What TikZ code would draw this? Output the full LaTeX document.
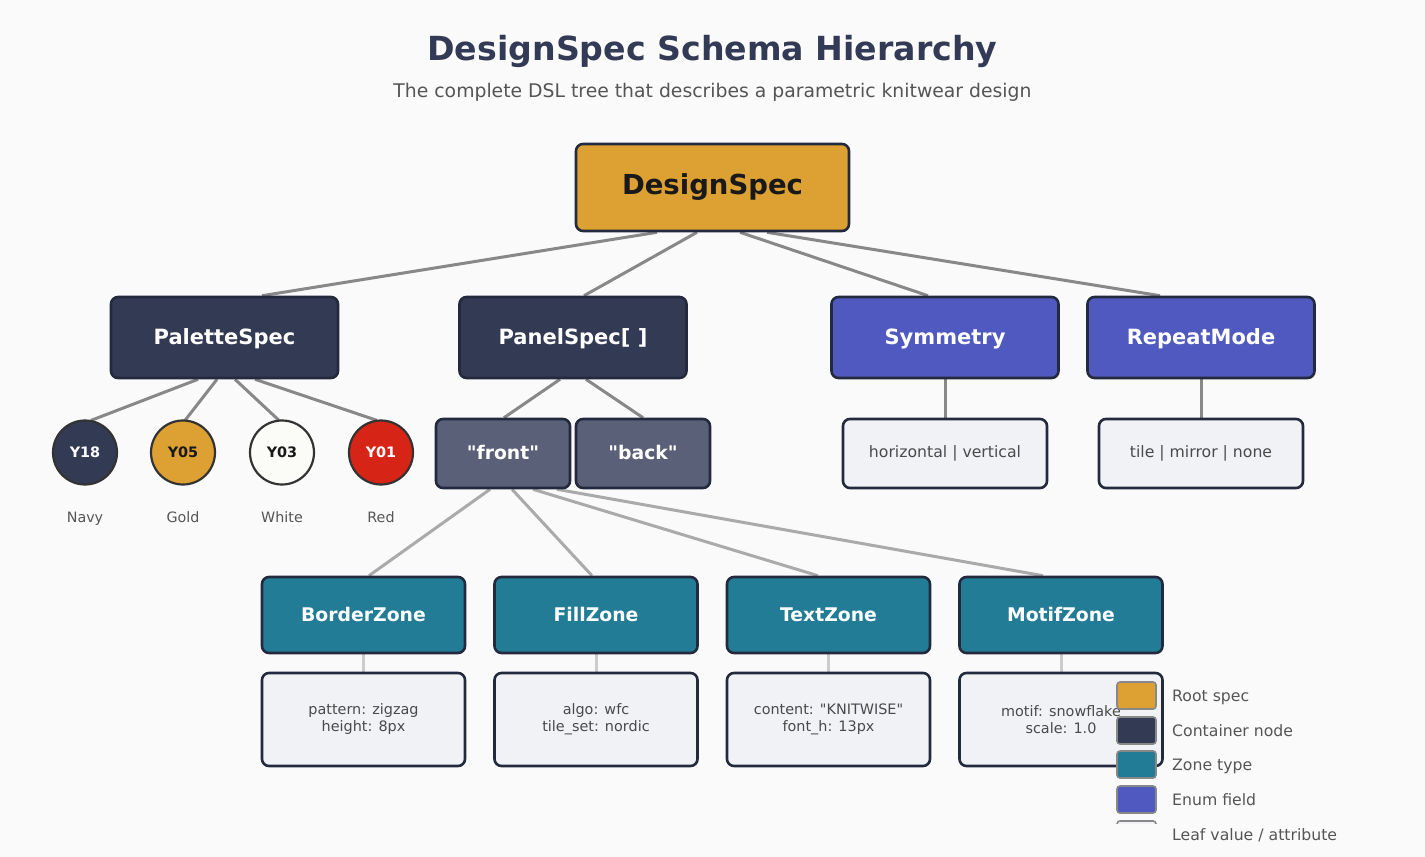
\documentclass[tikz,border=0pt]{standalone}
\usepackage{fontspec}
\setmainfont{DejaVu Sans}[Ligatures=TeXOff]
\usetikzlibrary{calc,backgrounds}
\definecolor{bgc}{HTML}{FAFAFA}
\definecolor{titlec}{HTML}{333A56}
\definecolor{subc}{HTML}{555555}
\definecolor{rootc}{HTML}{DDA033}
\definecolor{contc}{HTML}{333A54}
\definecolor{panc}{HTML}{596078}
\definecolor{enumc}{HTML}{4F59BF}
\definecolor{zonec}{HTML}{237C96}
\definecolor{leafc}{HTML}{F1F2F6}
\definecolor{bordc}{HTML}{232A3D}
\definecolor{leaftxt}{HTML}{4A4A4A}
\definecolor{redc}{HTML}{D62416}
\definecolor{whitec}{HTML}{FBFBF8}
\definecolor{circb}{HTML}{333333}
\definecolor{edgea}{HTML}{888888}
\definecolor{edgeb}{HTML}{AAAAAA}
\definecolor{edgec}{HTML}{CCCCCC}
\tikzset{
  box/.style={rectangle, rounded corners=7pt, draw=bordc, line width=2.6pt, inner sep=0pt, align=center},
  rootbox/.style={box, text height=20pt, text depth=6.4pt, fill=rootc, text=black!90, minimum width=273pt, minimum height=87pt, font=\bfseries\fontsize{27.5}{32}\selectfont},
  contbox/.style={box, text height=15.5pt, text depth=2.5pt, fill=contc, text=white, minimum width=227pt, minimum height=81pt, font=\bfseries\fontsize{21}{25}\selectfont},
  enumbox/.style={contbox, fill=enumc},
  panbox/.style={box, text height=14pt, text depth=3pt, fill=panc, text=white, minimum width=134pt, minimum height=69pt, font=\bfseries\fontsize{18.8}{22}\selectfont},
  valbox/.style={box, text height=11.5pt, text depth=3.1pt, fill=leafc, text=leaftxt, minimum width=204pt, minimum height=69pt, font=\fontsize{15.7}{19}\selectfont},
  zonebox/.style={box, text height=14pt, text depth=2pt, fill=zonec, text=white, minimum width=203pt, minimum height=76pt, font=\bfseries\fontsize{18.8}{22}\selectfont},
  attrbox/.style={box, fill=leafc, text=leaftxt, minimum width=203pt, minimum height=93pt, font=\fontsize{14.4}{17}\selectfont},
  yarn/.style={circle, draw=circb, line width=2.2pt, minimum size=64pt, inner sep=0pt, font=\bfseries\fontsize{14.4}{17}\selectfont},
  yarnlbl/.style={anchor=base, text=subc, font=\fontsize{14.3}{17}\selectfont},
  edgeA/.style={draw=edgea, line width=3pt},
  edgeB/.style={draw=edgeb, line width=3pt},
  edgeC/.style={draw=edgec, line width=3pt},
  legsq/.style={rectangle, rounded corners=3pt, draw=edgea, line width=1.6pt, minimum width=39pt, minimum height=27pt, inner sep=0pt},
  leglbl/.style={anchor=base west, text=subc, font=\fontsize{15.7}{19}\selectfont, inner sep=0pt},
}
\begin{document}
\begin{tikzpicture}[x=1pt, y=-1pt]
\useasboundingbox (0,0) rectangle (1425,857);

\node[anchor=base, text=titlec, font=\bfseries\fontsize{33.2}{40}\selectfont] (title) at (712.5,60) {DesignSpec Schema Hierarchy};
\node[anchor=base, text=subc, font=\fontsize{18.8}{22}\selectfont] (subtitle) at (712.5,97) {The complete DSL tree that describes a parametric knitwear design};

% level 0
\node[rootbox] (root) at (712.5,187.5) {DesignSpec};
% level 1
\node[contbox] (pal) at (224.5,337.5) {PaletteSpec};
\node[contbox] (pan) at (573,337.5) {PanelSpec[ ]};
\node[enumbox] (sym) at (945,337.5) {Symmetry};
\node[enumbox] (rep) at (1201,337.5) {RepeatMode};
% yarns
\node[yarn, fill=contc, text=white] (y18) at (85,452.5) {Y18};
\node[yarn, fill=rootc, text=black!90] (y05) at (183,452.5) {Y05};
\node[yarn, fill=whitec, text=black!90] (y03) at (282,452.5) {Y03};
\node[yarn, fill=redc, text=white] (y01) at (381,452.5) {Y01};
\node[yarnlbl] (l18) at (85,522) {Navy};
\node[yarnlbl] (l05) at (183,522) {Gold};
\node[yarnlbl] (l03) at (282,522) {White};
\node[yarnlbl] (l01) at (381,522) {Red};
% panels
\node[panbox] (front) at (503,453.5) {"front"};
\node[panbox] (back) at (643,453.5) {"back"};
% enum values
\node[valbox] (symv) at (945,453.5) {horizontal | vertical};
\node[valbox] (repv) at (1201,453.5) {tile | mirror | none};
% zones
\node[zonebox] (bz) at (363.5,615) {BorderZone};
\node[zonebox] (fz) at (596,615) {FillZone};
\node[zonebox] (tz) at (828.5,615) {TextZone};
\node[zonebox] (mz) at (1061,615) {MotifZone};
% attributes
\node[attrbox] (ba) at (363.5,719.5) {pattern: zigzag\\height: 8px};
\node[attrbox] (fa) at (596,719.5) {algo: wfc\\tile\_set: nordic};
\node[attrbox] (ta) at (828.5,719.5) {content: "KNITWISE"\\font\_h: 13px};
\node[attrbox] (ma) at (1061,719.5) {motif: snowflake\\scale: 1.0};

\begin{scope}[on background layer]
  \fill[bgc] (0,0) rectangle (1425,857);
  \draw[edgeA] ($(root.south)+(-55.5,0)$) -- ($(pal.north)+(37.5,0)$);
  \draw[edgeA] ($(root.south)+(-15.5,0)$) -- ($(pan.north)+(11,0)$);
  \draw[edgeA] ($(root.south)+(27.5,0)$) -- ($(sym.north)+(-17,0)$);
  \draw[edgeA] ($(root.south)+(54.5,0)$) -- ($(rep.north)+(-41,0)$);
  \draw[edgeA] ($(pal.south)+(-26.5,0)$) -- ($(y18.north)+(6,1)$);
  \draw[edgeA] ($(pal.south)+(-7.5,0)$) -- ($(y05.north)+(2,1)$);
  \draw[edgeA] ($(pal.south)+(10.5,0)$) -- ($(y03.north)+(-3,1)$);
  \draw[edgeA] ($(pal.south)+(30.5,0)$) -- ($(y01.north)+(-4,1)$);
  \draw[edgeA] ($(pan.south)+(-13,0)$) -- ($(front.north)+(1,0)$);
  \draw[edgeA] ($(pan.south)+(13,0)$) -- (back.north);
  \draw[edgeA] (sym.south) -- (symv.north);
  \draw[edgeA] (rep.south) -- (repv.north);
  \draw[edgeB] ($(front.south)+(-13,0)$) -- ($(bz.north)+(5.5,0)$);
  \draw[edgeB] ($(front.south)+(9,0)$) -- ($(fz.north)+(-4,0)$);
  \draw[edgeB] ($(front.south)+(30,0)$) -- ($(tz.north)+(-10.5,0)$);
  \draw[edgeB] ($(front.south)+(54,0)$) -- ($(mz.north)+(-18,0)$);
  \draw[edgeC] (bz.south) -- (ba.north);
  \draw[edgeC] (fz.south) -- (fa.north);
  \draw[edgeC] (tz.south) -- (ta.north);
  \draw[edgeC] (mz.south) -- (ma.north);
\end{scope}

% legend
\node[legsq, fill=rootc] (k1) at (1136.5,695.5) {};
\node[legsq, fill=contc] (k2) at (1136.5,730.5) {};
\node[legsq, fill=zonec] (k3) at (1136.5,764.5) {};
\node[legsq, fill=enumc] (k4) at (1136.5,799.5) {};
\begin{scope}
  \clip (1100,815) rectangle (1170,823.5);
  \node[legsq, fill=leafc] (k5) at (1136.5,834.5) {};
\end{scope}
\node[leglbl] (t1) at (1172,701.5) {Root spec};
\node[leglbl] (t2) at (1172,736.5) {Container node};
\node[leglbl] (t3) at (1172,770.5) {Zone type};
\node[leglbl] (t4) at (1172,805.5) {Enum field};
\node[leglbl] (t5) at (1172,840.5) {Leaf value / attribute};
\end{tikzpicture}
\end{document}
